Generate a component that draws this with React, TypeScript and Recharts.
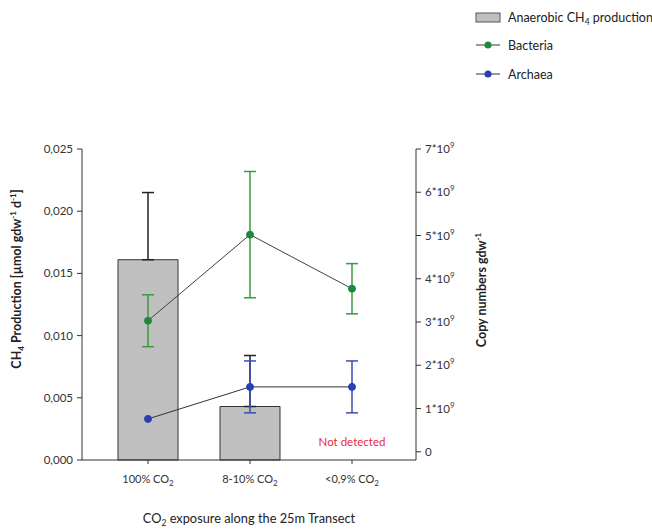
import {
  Bar,
  ComposedChart,
  ErrorBar,
  Legend,
  Line,
  ReferenceDot,
  XAxis,
  YAxis,
} from "recharts";

const categories = ["100%", "8-10%", "<0,9%"];
const ch4Production = [0.0161, 0.0043, 0];
const ch4Error = [0.0054, 0.0041, 0];
const bacteria = [3.03e9, 5.02e9, 3.77e9];
const bacteriaError = [0.6e9, 1.46e9, 0.58e9];
const archaea = [0.76e9, 1.5e9, 1.5e9];
const archaeaError = [0, 0.6e9, 0.6e9];
const leftTicks = [0, 0.005, 0.01, 0.015, 0.02, 0.025];
const rightTicks = [0, 1e9, 2e9, 3e9, 4e9, 5e9, 6e9, 7e9];

const data = categories.map((name, i) => ({
  name,
  ch4: ch4Production[i],
  ch4Err: [0, ch4Error[i]],
  bacteria: bacteria[i],
  bacteriaErr: bacteriaError[i],
  archaea: archaea[i],
  archaeaErr: archaeaError[i],
}));

const FONT = "Lato, 'Open Sans', sans-serif";
const GREEN = "#1b8a3c";
const GREEN_ERR = "#3d9a40";
const BLUE = "#2b3fb5";
const BLUE_ERR = "#3b4bb8";
const AXIS = "#333333";

function XTick({ x, y, payload }: any) {
  return (
    <text x={x} y={y + 17} textAnchor="middle" fontSize={11} fill="#333" fontFamily={FONT}>
      {payload.value} CO
      <tspan fontSize={8} dy={3}>2</tspan>
    </text>
  );
}

function RightTick({ x, y, payload }: any) {
  const n = Math.round(payload.value / 1e9);
  return (
    <text x={x} y={y + 4} textAnchor="start" fontSize={11.5} fill="#333" fontFamily={FONT}>
      {n === 0 ? "0" : (
        <>
          {n}*10
          <tspan fontSize={8} dy={-5}>9</tspan>
        </>
      )}
    </text>
  );
}

function LegendBox() {
  return (
    <svg width={182} height={90} style={{ display: "block" }}>
      <rect x={6} y={13} width={24} height={9} fill="#c0c0c0" stroke="#555" />
      <text x={38} y={22} fontSize={12.5} fill="#222" fontFamily={FONT}>
        Anaerobic CH
        <tspan fontSize={8.5} dy={3}>4</tspan>
        <tspan dy={-3}> production</tspan>
      </text>
      <line x1={6} x2={30} y1={45} y2={45} stroke="#333" />
      <circle cx={18} cy={45} r={3.5} fill={GREEN} />
      <text x={38} y={50} fontSize={12.5} fill="#222" fontFamily={FONT}>Bacteria</text>
      <line x1={6} x2={30} y1={74} y2={74} stroke="#333" />
      <circle cx={18} cy={74} r={3.5} fill={BLUE} />
      <text x={38} y={79} fontSize={12.5} fill="#222" fontFamily={FONT}>Archaea</text>
    </svg>
  );
}

export default function App() {
  return (
    <div style={{ position: "absolute", left: 0, top: 0, width: 652, height: 530, background: "#fff" }}>
      <ComposedChart
        width={652}
        height={530}
        data={data}
        margin={{ top: 149, right: 176, bottom: 40, left: 22 }}
      >
        <XAxis
          dataKey="name"
          height={30}
          padding={{ left: 15, right: 13 }}
          stroke={AXIS}
          tickSize={4}
          tick={<XTick />}
          label={{
            content: ({ viewBox }: any) => (
              <text
                x={viewBox.x + viewBox.width / 2}
                y={viewBox.y + 63}
                textAnchor="middle"
                fontSize={12.8}
                fill="#222"
                fontFamily={FONT}
              >
                CO
                <tspan fontSize={8.5} dy={3}>2</tspan>
                <tspan dy={-3}> exposure along the 25m Transect</tspan>
              </text>
            ),
          }}
        />
        <YAxis
          yAxisId="left"
          width={60}
          domain={[0, 0.025]}
          ticks={leftTicks}
          stroke={AXIS}
          tickSize={5}
          tickMargin={4}
          tick={{ fontSize: 11.5, fill: "#333", fontFamily: FONT }}
          tickFormatter={(v: number) => v.toFixed(3).replace(".", ",")}
          label={{
            content: () => (
              <text
                transform="translate(21 279) rotate(-90)"
                textAnchor="middle"
                fontSize={12.5}
                fontWeight="bold"
                fill="#222"
                fontFamily={FONT}
              >
                CH
                <tspan fontSize={8} dy={3}>4</tspan>
                <tspan dy={-3}> Production [µmol gdw</tspan>
                <tspan fontSize={8} dy={-5}>-1</tspan>
                <tspan dy={5}> d</tspan>
                <tspan fontSize={8} dy={-5}>-1</tspan>
                <tspan dy={5}>]</tspan>
              </text>
            ),
          }}
        />
        <YAxis
          yAxisId="right"
          orientation="right"
          width={60}
          domain={[-0.19e9, 7e9]}
          ticks={rightTicks}
          stroke={AXIS}
          tickSize={5}
          tickMargin={4}
          tick={<RightTick />}
          label={{
            content: () => (
              <text
                transform="translate(486 290) rotate(-90)"
                textAnchor="middle"
                fontSize={12.5}
                fontWeight="bold"
                fill="#222"
                fontFamily={FONT}
              >
                Copy numbers gdw
                <tspan fontSize={8} dy={-5}>-1</tspan>
              </text>
            ),
          }}
        />
        <Legend
          layout="horizontal"
          verticalAlign="middle"
          align="center"
          wrapperStyle={{ top: 0, left: 470, width: 182 }}
          content={() => <LegendBox />}
        />
        <Bar
          yAxisId="left"
          dataKey="ch4"
          barSize={60}
          fill="#c0c0c0"
          stroke="#333"
          strokeWidth={1}
          isAnimationActive={false}
        >
          <ErrorBar dataKey="ch4Err" direction="y" width={6} stroke="#222" />
        </Bar>
        <ReferenceDot
          yAxisId="left"
          x={categories[2]}
          y={0}
          r={0}
          fill="none"
          stroke="none"
          label={{
            content: ({ viewBox }: any) => (
              <text
                x={viewBox.x + (viewBox.width || 0) / 2}
                y={viewBox.y - 14}
                textAnchor="middle"
                fontSize={11.5}
                fill="#e8283c"
                fontFamily={FONT}
              >
                Not detected
              </text>
            ),
          }}
        />
        <Line
          yAxisId="right"
          dataKey="bacteria"
          stroke="#404040"
          strokeWidth={1}
          dot={{ r: 3.5, fill: GREEN, stroke: GREEN, strokeWidth: 1 }}
          isAnimationActive={false}
        >
          <ErrorBar dataKey="bacteriaErr" direction="y" width={6} stroke={GREEN_ERR} />
        </Line>
        <Line
          yAxisId="right"
          dataKey="archaea"
          stroke="#333"
          strokeWidth={1}
          dot={{ r: 3.5, fill: BLUE, stroke: BLUE, strokeWidth: 1 }}
          isAnimationActive={false}
        >
          <ErrorBar dataKey="archaeaErr" direction="y" width={6} stroke={BLUE_ERR} />
        </Line>
      </ComposedChart>
    </div>
  );
}
